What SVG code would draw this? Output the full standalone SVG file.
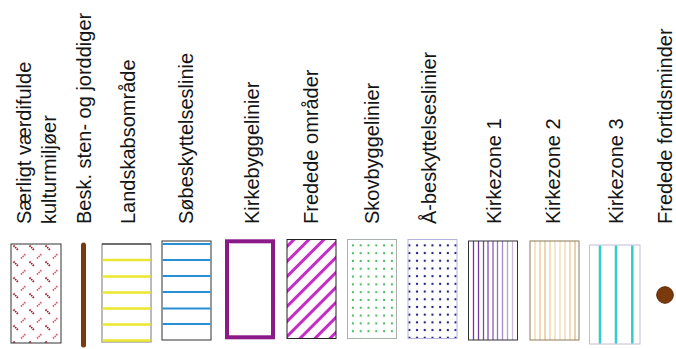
<svg xmlns="http://www.w3.org/2000/svg" width="676" height="349" viewBox="0 0 676 349">
<style>
.lbl{font-family:"Liberation Sans",Arial,sans-serif;font-size:20px;fill:#151515;text-anchor:start}
</style>
<defs>
<pattern id="pKultur" patternUnits="userSpaceOnUse" x="11" y="244" width="16" height="16">
<path d="M2.5,1.5 L7,6" stroke="#a01c30" stroke-width="1.8" stroke-dasharray="1.5 0.8"/>
<path d="M10,14.5 L14.5,10" stroke="#e05a78" stroke-width="1.8" stroke-dasharray="1.5 0.8"/>
</pattern>
<pattern id="pFred" patternUnits="userSpaceOnUse" x="287" y="239" width="10.6" height="10.6" patternTransform="rotate(45 287 239)">
<line x1="5.3" y1="-1" x2="5.3" y2="12" stroke="#c42cc4" stroke-width="3"/>
</pattern>
<pattern id="pSkov" patternUnits="userSpaceOnUse" x="349" y="241.5" width="7.8" height="7.8">
<circle cx="3.9" cy="3.9" r="1.1" fill="#3cb850"/>
</pattern>
<pattern id="pAa" patternUnits="userSpaceOnUse" x="405.5" y="241.5" width="7.7" height="7.7">
<rect x="2.8" y="2.8" width="2.1" height="2.1" fill="#22227e"/>
</pattern>
</defs>

<g id="kulturmiljoer">
<text class="lbl" transform="translate(30.7,224) rotate(-90)">Særligt værdifulde</text>
<text class="lbl" transform="translate(56,224) rotate(-90)">kulturmiljøer</text>
<rect x="11" y="244" width="50" height="99" fill="url(#pKultur)" stroke="#333" stroke-width="1"/>
</g>

<g id="diger">
<text class="lbl" transform="translate(90.7,224) rotate(-90)">Besk. sten- og jorddiger</text>
<line x1="83.5" y1="245" x2="83.5" y2="345" stroke="#7a3a0c" stroke-width="5" stroke-linecap="round"/>
</g>

<g id="landskab">
<text class="lbl" transform="translate(135,224) rotate(-90)">Landskabsområde</text>
<rect x="102" y="244" width="49" height="98" fill="#fff" stroke="#777" stroke-width="1"/>
<line x1="102" y1="244" x2="151" y2="244" stroke="#222" stroke-width="1"/>
<g stroke="#ece630" stroke-width="2.4">
<line x1="102.5" y1="260" x2="150.5" y2="260"/>
<line x1="102.5" y1="276.5" x2="150.5" y2="276.5"/>
<line x1="102.5" y1="292.5" x2="150.5" y2="292.5"/>
<line x1="102.5" y1="308.5" x2="150.5" y2="308.5"/>
<line x1="102.5" y1="324.5" x2="150.5" y2="324.5"/>
<line x1="102.5" y1="340.5" x2="150.5" y2="340.5"/>
</g>
</g>

<g id="soebeskyttelse">
<text class="lbl" transform="translate(193.3,224) rotate(-90)">Søbeskyttelseslinie</text>
<rect x="162" y="241" width="49" height="99" fill="#fff" stroke="#333" stroke-width="1"/>
<g stroke="#2a8ed6" stroke-width="2">
<line x1="162.5" y1="244" x2="210.5" y2="244"/>
<line x1="162.5" y1="260" x2="210.5" y2="260"/>
<line x1="162.5" y1="276" x2="210.5" y2="276"/>
<line x1="162.5" y1="292" x2="210.5" y2="292"/>
<line x1="162.5" y1="308.5" x2="210.5" y2="308.5"/>
<line x1="162.5" y1="324" x2="210.5" y2="324"/>
</g>
</g>

<g id="kirkebyggelinier">
<text class="lbl" transform="translate(259.3,224) rotate(-90)">Kirkebyggelinier</text>
<rect x="227" y="241.3" width="46" height="96" fill="#fff" stroke="#8a1a88" stroke-width="4"/>
</g>

<g id="fredede-omraader">
<text class="lbl" transform="translate(317.7,224) rotate(-90)">Fredede områder</text>
<rect x="287" y="239.5" width="49" height="99" fill="url(#pFred)" stroke="#222" stroke-width="1"/>
</g>

<g id="skovbyggelinier">
<text class="lbl" transform="translate(379,224) rotate(-90)">Skovbyggelinier</text>
<rect x="347.5" y="239.5" width="49" height="99" fill="url(#pSkov)" stroke="#aab0aa" stroke-width="1"/>
</g>

<g id="aa-beskyttelse">
<text class="lbl" transform="translate(436,224) rotate(-90)">Å-beskyttelseslinier</text>
<rect x="408" y="239.5" width="49" height="99" fill="url(#pAa)" stroke="#b4b4e0" stroke-width="1"/>
</g>

<g id="kirkezone1">
<text class="lbl" transform="translate(500.7,224) rotate(-90)">Kirkezone 1</text>
<rect x="468.5" y="241" width="49" height="99" fill="#fff"/>
<g stroke-width="1.3">
<line x1="473.5" y1="241" x2="473.5" y2="340" stroke="#6e3a9a"/>
<line x1="478.5" y1="241" x2="478.5" y2="340" stroke="#7340a0"/>
<line x1="483.5" y1="241" x2="483.5" y2="340" stroke="#7a48a6"/>
<line x1="488" y1="241" x2="488" y2="340" stroke="#8250ac"/>
<line x1="493" y1="241" x2="493" y2="340" stroke="#8c5cb4"/>
<line x1="497.5" y1="241" x2="497.5" y2="340" stroke="#9a70bf"/>
<line x1="502.5" y1="241" x2="502.5" y2="340" stroke="#a888c8"/>
<line x1="507.5" y1="241" x2="507.5" y2="340" stroke="#b8a0d4"/>
<line x1="512.5" y1="241" x2="512.5" y2="340" stroke="#c8b8e0"/>
</g>
<rect x="468.5" y="241" width="49" height="99" fill="none" stroke="#333" stroke-width="1"/>
</g>

<g id="kirkezone2">
<text class="lbl" transform="translate(560,224) rotate(-90)">Kirkezone 2</text>
<rect x="530" y="241" width="49" height="99" fill="#fff"/>
<g stroke-width="1.3">
<line x1="535" y1="241" x2="535" y2="340" stroke="#f0d8a8"/>
<line x1="540" y1="241" x2="540" y2="340" stroke="#e8c890"/>
<line x1="545" y1="241" x2="545" y2="340" stroke="#e4c088"/>
<line x1="550" y1="241" x2="550" y2="340" stroke="#ecd0a0"/>
<line x1="555" y1="241" x2="555" y2="340" stroke="#f0dab0"/>
<line x1="560" y1="241" x2="560" y2="340" stroke="#f0dcb4"/>
<line x1="565" y1="241" x2="565" y2="340" stroke="#eed6ac"/>
<line x1="570" y1="241" x2="570" y2="340" stroke="#e8cc9c"/>
<line x1="575" y1="241" x2="575" y2="340" stroke="#dcbc88"/>
</g>
<rect x="530" y="241" width="49" height="99" fill="none" stroke="#8c7a58" stroke-width="1"/>
</g>

<g id="kirkezone3">
<text class="lbl" transform="translate(623.3,224) rotate(-90)">Kirkezone 3</text>
<rect x="589.5" y="245" width="50.5" height="99" fill="#fff" stroke="#c4bcd4" stroke-width="1"/>
<g stroke="#30cccc" stroke-width="2.5">
<line x1="600" y1="245.5" x2="600" y2="343.5"/>
<line x1="616" y1="245.5" x2="616" y2="343.5"/>
<line x1="632.3" y1="245.5" x2="632.3" y2="343.5"/>
</g>
</g>

<g id="fortidsminder">
<text class="lbl" transform="translate(672,224) rotate(-90)">Fredede fortidsminder</text>
<circle cx="665" cy="295" r="8.3" fill="#7a3a0c" stroke="#5a2806" stroke-width="1"/>
</g>
</svg>
